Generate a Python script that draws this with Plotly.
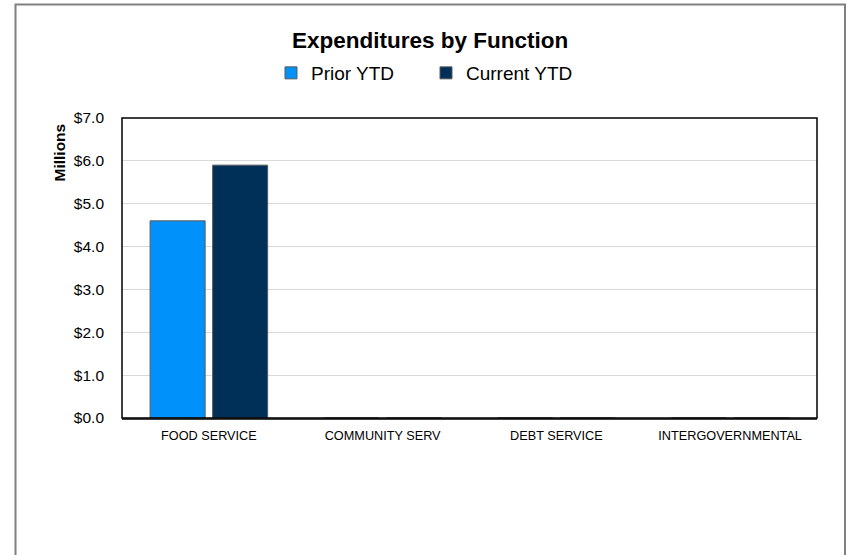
import plotly.graph_objects as go

# Expenditure categories and year-to-date totals (in millions of dollars)
categories = ["FOOD SERVICE", "COMMUNITY SERV", "DEBT SERVICE", "INTERGOVERNMENTAL"]
prior_ytd = [4.6, 0.0, 0.0, 0.0]
current_ytd = [5.9, 0.0, 0.0, 0.0]
y_ticks = [0, 1, 2, 3, 4, 5, 6, 7]

FONT = "Liberation Sans, Arial, sans-serif"

fig = go.Figure()
fig.add_trace(go.Bar(
    x=categories, y=prior_ytd, name="Prior YTD",
    marker=dict(color="#0091FA", line=dict(color="#5a5a5a", width=1)),
))
fig.add_trace(go.Bar(
    x=categories, y=current_ytd, name="Current YTD",
    marker=dict(color="#003057", line=dict(color="#5a5a5a", width=1)),
))

fig.update_layout(
    width=850, height=555,
    margin=dict(l=122, r=33, t=118, b=137),
    paper_bgcolor="white", plot_bgcolor="white",
    font=dict(family=FONT, color="black"),
    barmode="group", bargap=0.28, bargroupgap=0.12,
    title=dict(text="<b>Expenditures by Function</b>", x=0.506, xanchor="center",
               y=1 - 40 / 555, yanchor="middle", yref="container",
               font=dict(size=22.5, family=FONT, color="black")),
    legend=dict(orientation="h", x=(313 - 42 - 122) / 695, xanchor="left",
                y=(418 - 73) / 300, yanchor="middle",
                font=dict(size=19, family=FONT), itemwidth=30,
                entrywidth=110, entrywidthmode="pixels",
                bgcolor="rgba(0,0,0,0)"),
    showlegend=True,
)

fig.update_yaxes(
    range=[0, 7], tickvals=y_ticks, tickformat="$.1f",
    showgrid=True, gridcolor="#d9d9d9", gridwidth=1,
    zeroline=False, showline=False, ticks="", ticklabelstandoff=17,
    tickfont=dict(size=15.5, family=FONT, color="black"),
)
fig.update_xaxes(
    showgrid=False, ticks="", showline=True, linecolor="#404040", linewidth=2,
    tickfont=dict(size=12.7, family=FONT, color="black"), ticklabelstandoff=5,
)

# plot-area frame
fig.add_shape(type="rect", xref="paper", yref="paper", x0=0, x1=1, y0=0, y1=1,
              line=dict(color="black", width=1.5), layer="above")
# outer chart frame
fig.add_shape(type="rect", xref="paper", yref="paper",
              x0=(15.5 - 122) / 695, x1=(845 - 122) / 695,
              y0=(418 - 570) / 300, y1=(418 - 4.5) / 300,
              line=dict(color="#808080", width=2), layer="below")

fig.add_annotation(text="<b>Millions</b>", textangle=-90, xref="paper", yref="paper",
                   x=(58.5 - 122) / 695, y=(418 - 153) / 300, showarrow=False,
                   xanchor="center", yanchor="middle",
                   font=dict(size=15.5, family=FONT, color="black"))

fig.write_html("out.html")
